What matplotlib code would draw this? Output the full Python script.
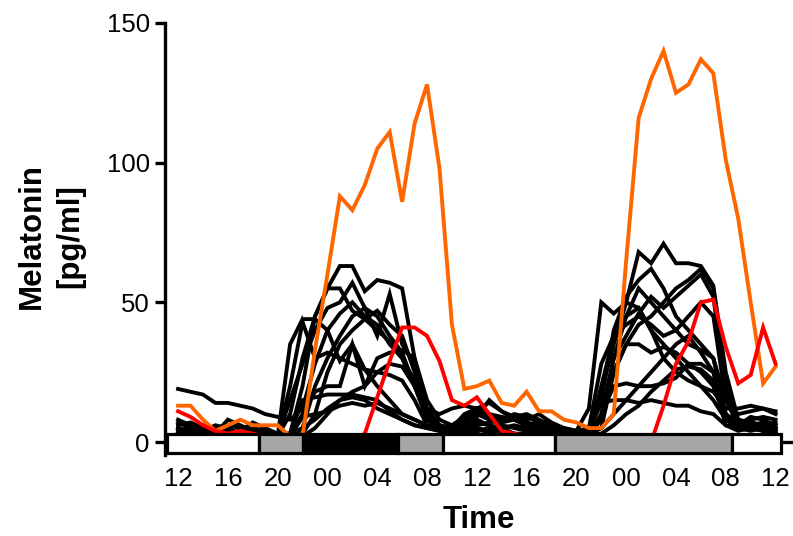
import matplotlib
matplotlib.use('Agg')
import matplotlib.pyplot as plt
from matplotlib.patches import Rectangle

plt.rcParams['font.family'] = ['Liberation Sans', 'DejaVu Sans']

# ---------------- data ----------------
hours = list(range(49))                     # hours since 12:00 on day 1
tick_pos = list(range(0, 49, 4))
tick_labels = ['12', '16', '20', '00', '04', '08', '12', '16', '20', '00', '04', '08', '12']
y_ticks = [0, 50, 100, 150]

orange = [13, 13, 8, 4, 6, 8, 6, 6, 6, 2, 2, 33, 60, 88, 83, 92, 105, 111, 86, 114, 128, 98, 42, 19,
          20, 22, 14, 13, 18, 11, 11, 8, 7, 5, 5, 10, 65, 116, 130, 140, 125, 128, 137, 132, 101, 80, 50, 21, 27]
red = [11, 9, 6, 4, 3, 4, 3, 2, 2, 1, 1, 1, 0, 0, 0, 3, 16, 29, 41, 41, 38, 29, 15, 13,
       16, 10, 4, 3, 2, 2, 2, 2, 1, 1, 0, 0, 0, 0, 0, 13, 28, 36, 50, 51, 34, 21, 24, 41, 28]

black_1 = [5, 4, 3, 4, 3, 3, 2, 2, 2, 10, 30, 45, 55, 63, 63, 54, 58, 57, 55, 30, 10, 6, 5, 4,
           5, 3, 4, 3, 2, 3, 2, 2, 2, 5, 18, 35, 50, 68, 64, 71, 64, 64, 63, 56, 25, 8, 6, 5, 4]
black_2 = [7, 5, 4, 3, 4, 3, 3, 2, 2, 35, 44, 44, 40, 29, 35, 26, 20, 15, 10, 8, 6, 5, 6, 8,
           10, 8, 6, 5, 4, 3, 3, 3, 4, 12, 50, 46, 50, 48, 40, 35, 30, 25, 20, 15, 8, 6, 7, 6, 5]
black_3 = [4, 3, 5, 4, 3, 2, 3, 3, 2, 3, 20, 45, 55, 55, 47, 44, 40, 36, 30, 22, 8, 5, 4, 6,
           5, 4, 5, 3, 3, 2, 3, 2, 2, 4, 15, 40, 52, 58, 62, 55, 45, 40, 35, 30, 15, 6, 5, 4, 3]
black_4 = [3, 2, 3, 2, 2, 3, 2, 2, 2, 2, 5, 20, 30, 38, 45, 48, 38, 53, 35, 28, 12, 6, 4, 3,
           4, 5, 3, 2, 2, 3, 2, 2, 2, 3, 5, 25, 35, 42, 45, 50, 55, 58, 62, 55, 20, 6, 9, 8, 6]
black_5 = [2, 3, 2, 3, 2, 2, 2, 2, 2, 15, 28, 40, 48, 50, 57, 48, 45, 38, 32, 20, 8, 5, 3, 5,
           7, 6, 4, 3, 2, 2, 2, 2, 3, 3, 8, 30, 45, 55, 50, 45, 40, 35, 33, 30, 10, 5, 4, 5, 4]
black_6 = [6, 7, 5, 3, 8, 6, 4, 3, 2, 3, 10, 18, 20, 20, 35, 20, 30, 32, 33, 30, 15, 8, 6, 9,
           11, 10, 8, 9, 10, 8, 6, 4, 3, 3, 8, 25, 35, 35, 32, 34, 32, 28, 25, 20, 8, 10, 11, 12, 10]
black_7 = [3, 4, 6, 5, 3, 4, 7, 5, 3, 3, 15, 16, 17, 17, 17, 16, 15, 11, 8, 6, 5, 4, 4, 7,
           12, 9, 7, 8, 6, 5, 4, 3, 2, 2, 10, 20, 21, 20, 20, 21, 23, 28, 28, 25, 10, 7, 8, 9, 8]
black_8 = [8, 6, 4, 6, 5, 3, 2, 3, 2, 2, 9, 10, 11, 13, 14, 13, 14, 12, 10, 8, 6, 5, 5, 10,
           12, 14, 11, 9, 8, 10, 7, 5, 4, 4, 14, 15, 15, 14, 15, 14, 13, 13, 11, 10, 6, 5, 6, 7, 5]
black_9 = [19, 18, 17, 14, 14, 13, 12, 10, 9, 8, 12, 28, 40, 46, 50, 45, 42, 35, 30, 20, 12, 10, 12, 13,
           12, 10, 9, 8, 7, 6, 5, 5, 4, 5, 28, 38, 45, 48, 40, 30, 25, 22, 20, 18, 12, 12, 13, 12, 11]
black_10 = [4, 5, 3, 2, 6, 5, 4, 3, 2, 2, 3, 10, 25, 35, 40, 44, 47, 42, 38, 25, 8, 6, 5, 7,
            8, 6, 5, 6, 5, 4, 3, 3, 2, 2, 20, 38, 42, 45, 42, 38, 40, 45, 50, 45, 15, 8, 7, 6, 5]
black_11 = [2, 2, 3, 5, 4, 2, 2, 3, 2, 2, 2, 5, 10, 15, 18, 20, 25, 28, 27, 20, 10, 5, 4, 6,
            9, 15, 11, 8, 6, 5, 4, 3, 3, 3, 5, 10, 15, 20, 25, 30, 35, 38, 32, 25, 8, 5, 6, 4, 3]
black_12 = [5, 3, 2, 2, 3, 4, 3, 2, 2, 20, 43, 30, 32, 30, 28, 26, 25, 24, 22, 15, 6, 4, 3, 4,
            3, 2, 3, 2, 2, 3, 2, 2, 2, 2, 10, 30, 38, 46, 52, 48, 52, 56, 60, 52, 18, 7, 5, 6, 7]
black_13 = [3, 4, 4, 3, 2, 3, 5, 4, 3, 3, 5, 8, 12, 15, 16, 15, 12, 10, 8, 6, 5, 4, 4, 5,
            6, 7, 8, 10, 9, 7, 5, 4, 3, 3, 3, 6, 10, 13, 18, 22, 26, 27, 26, 22, 6, 4, 5, 4, 4]

black_series = [black_1, black_2, black_3, black_4, black_5, black_6, black_7,
                black_8, black_9, black_10, black_11, black_12, black_13]

light_edges = [-0.9, 6.5, 10.0, 17.7, 21.3, 30.3, 44.5, 48.4]
light_colors = ['white', '#a6a6a6', 'black', '#a6a6a6', 'white', '#a6a6a6', 'white']

# ---------------- figure ----------------
fig = plt.figure(figsize=(7.93, 5.36), dpi=100)
ax = fig.add_axes([165 / 793, (536 - 454.6) / 536, (793 - 165) / 793, (454.6 - 23) / 536])

for s in black_series:
    ax.plot(hours, s, color='black', lw=2.8, zorder=2, solid_joinstyle='miter')
ax.plot(hours, orange, color='#ff6600', lw=2.8, zorder=3, solid_joinstyle='miter')
ax.plot(hours, red, color='#ff0000', lw=2.8, zorder=4, solid_joinstyle='miter')

ax.set_xlim(-1.05, 49.4)
ax.set_ylim(-4.5, 150)

# zero line
ax.plot([-1.05, 49.4], [0, 0], color='black', lw=2.4, zorder=5, clip_on=False)

# light/dark bar
for x0, x1, c in zip(light_edges[:-1], light_edges[1:], light_colors):
    ax.add_patch(Rectangle((x0, -4.1), x1 - x0, 7.1, facecolor=c, edgecolor='black',
                           lw=2.3, zorder=6, clip_on=False))

for sp in ['top', 'right', 'bottom']:
    ax.spines[sp].set_visible(False)
ax.spines['left'].set_linewidth(2.4)

ax.set_yticks(y_ticks)
ax.set_xticks(tick_pos)
ax.set_xticklabels(tick_labels)
ax.tick_params(axis='y', length=7, width=2.4, labelsize=18.5, pad=4)
ax.tick_params(axis='x', length=0, labelsize=18.5, pad=9)

fig.text(479 / 793, 1 - 528 / 536, 'Time', ha='center', va='baseline',
         fontsize=22.5, fontweight='bold')
fig.text(51 / 793, 1 - 236 / 536, 'Melatonin\n[pg/ml]', rotation=90, ha='center', va='center',
         multialignment='center', fontsize=22.5, fontweight='bold', linespacing=1.35)

fig.savefig('out.png', dpi=100)
